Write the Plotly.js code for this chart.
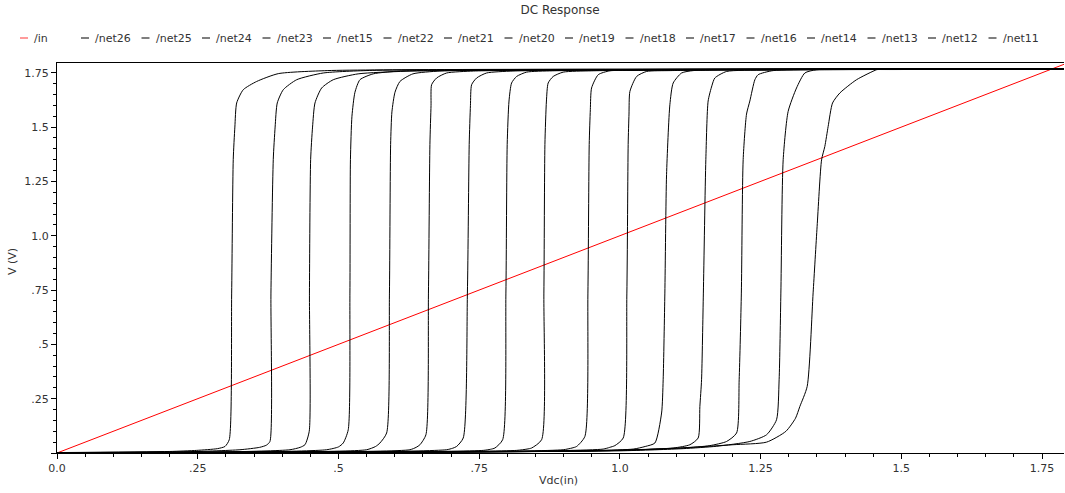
<!DOCTYPE html>
<html><head><meta charset="utf-8">
<script src="https://cdn.plot.ly/plotly-3.0.1.min.js"></script>
<style>html,body{margin:0;padding:0;background:#fff}#chart{width:1065px;height:493px}</style>
</head><body><div id="chart"></div>
<script>
// ---- data ----
const inX = [0, 1.8];
const inY = [0, 1.8];

const net26X = [0, 0.20, 0.2481, 0.285, 0.2984, 0.3060, 0.3103, 0.3131, 0.3160, 0.3192, 0.3309, 0.3547, 0.3931, 0.48, 0.70, 1.79];
const net26Y = [0.002, 0.007, 0.012, 0.020, 0.030, 0.061, 0.736, 1.35, 1.50, 1.611, 1.672, 1.71, 1.746, 1.76, 1.765, 1.768];

const net25X = [0, 0.22, 0.3250, 0.360, 0.3720, 0.3783, 0.3801, 0.3842, 0.3875, 0.3913, 0.4020, 0.4258, 0.4730, 0.56, 0.80, 1.79];
const net25Y = [0.002, 0.005, 0.015, 0.026, 0.036, 0.053, 0.736, 1.35, 1.50, 1.611, 1.672, 1.718, 1.749, 1.761, 1.765, 1.768];

const net24X = [0, 0.30, 0.4139, 0.432, 0.4405, 0.4481, 0.4485, 0.4506, 0.4540, 0.4583, 0.4702, 0.4908, 0.535, 0.62, 0.90, 1.79];
const net24Y = [0.002, 0.005, 0.015, 0.026, 0.038, 0.100, 0.736, 1.35, 1.50, 1.611, 1.68, 1.718, 1.745, 1.757, 1.764, 1.768];

const net23X = [0, 0.36, 0.4790, 0.500, 0.5085, 0.5174, 0.5204, 0.5213, 0.5240, 0.5293, 0.5382, 0.5618, 0.6092, 0.70, 1.0, 1.79];
const net23Y = [0.002, 0.005, 0.015, 0.028, 0.046, 0.107, 0.736, 1.35, 1.55, 1.66, 1.718, 1.745, 1.758, 1.762, 1.765, 1.768];

const net15X = [0, 0.42, 0.5501, 0.566, 0.5737, 0.5856, 0.5906, 0.5927, 0.5950, 0.6004, 0.6092, 0.6323, 0.6803, 0.78, 1.05, 1.79];
const net15Y = [0.002, 0.005, 0.015, 0.030, 0.046, 0.092, 0.736, 1.42, 1.57, 1.66, 1.71, 1.745, 1.758, 1.762, 1.765, 1.768];

const net22X = [0, 0.48, 0.6270, 0.638, 0.6448, 0.6554, 0.6599, 0.6625, 0.6645, 0.6655, 0.6744, 0.6922, 0.74, 0.85, 1.1, 1.79];
const net22Y = [0.002, 0.005, 0.015, 0.026, 0.038, 0.084, 0.736, 1.42, 1.60, 1.695, 1.726, 1.749, 1.758, 1.762, 1.765, 1.768];

const net21X = [0, 0.55, 0.6922, 0.703, 0.7099, 0.7217, 0.7291, 0.7323, 0.7345, 0.7366, 0.7455, 0.7632, 0.81, 0.92, 1.15, 1.79];
const net21Y = [0.002, 0.005, 0.015, 0.022, 0.030, 0.069, 0.736, 1.42, 1.60, 1.695, 1.726, 1.749, 1.758, 1.762, 1.765, 1.768];

const net20X = [0, 0.60, 0.7572, 0.770, 0.7780, 0.7917, 0.7975, 0.7998, 0.8030, 0.8076, 0.8165, 0.8343, 0.88, 0.98, 1.2, 1.79];
const net20Y = [0.002, 0.005, 0.012, 0.017, 0.023, 0.061, 0.736, 1.42, 1.62, 1.703, 1.733, 1.753, 1.759, 1.762, 1.765, 1.768];

const net19X = [0, 0.65, 0.8165, 0.835, 0.8432, 0.8609, 0.8650, 0.8668, 0.8695, 0.8726, 0.8815, 0.8993, 0.95, 1.05, 1.25, 1.79];
const net19Y = [0.002, 0.005, 0.012, 0.018, 0.023, 0.061, 0.736, 1.42, 1.62, 1.703, 1.733, 1.753, 1.759, 1.762, 1.765, 1.768];

const net18X = [0, 0.72, 0.8993, 0.915, 0.9231, 0.9378, 0.9432, 0.9455, 0.9475, 0.9497, 0.9615, 0.9822, 1.03, 1.12, 1.3, 1.79];
const net18Y = [0.002, 0.005, 0.015, 0.023, 0.030, 0.076, 0.736, 1.42, 1.58, 1.68, 1.741, 1.759, 1.761, 1.763, 1.765, 1.768];

const net17X = [0, 0.78, 0.9703, 0.982, 0.9911, 1.0059, 1.0124, 1.0147, 1.0162, 1.0178, 1.0297, 1.0474, 1.09, 1.18, 1.35, 1.79];
const net17Y = [0.002, 0.006, 0.018, 0.026, 0.034, 0.069, 0.736, 1.42, 1.56, 1.664, 1.733, 1.756, 1.760, 1.763, 1.765, 1.768];

const net16X = [0, 0.85, 1.0236, 1.045, 1.0622, 1.0741, 1.0769, 1.0799, 1.0829, 1.0888, 1.0947, 1.1096, 1.1302, 1.20, 1.40, 1.79];
const net16Y = [0.002, 0.007, 0.018, 0.030, 0.046, 0.184, 0.337, 0.736, 1.281, 1.603, 1.703, 1.749, 1.760, 1.763, 1.765, 1.768];

const net14X = [0, 0.90, 1.0947, 1.1243, 1.1391, 1.1421, 1.1451, 1.1483, 1.1527, 1.1568, 1.1634, 1.1687, 1.1895, 1.26, 1.45, 1.79];
const net14Y = [0.002, 0.008, 0.023, 0.038, 0.069, 0.214, 0.337, 0.736, 1.35, 1.62, 1.69, 1.726, 1.756, 1.762, 1.765, 1.768];

const net13X = [0, 0.95, 1.1124, 1.1599, 1.1895, 1.2073, 1.2119, 1.2158, 1.2190, 1.2250, 1.2309, 1.2398, 1.2456, 1.2723, 1.50, 1.79];
const net13Y = [0.002, 0.009, 0.023, 0.034, 0.053, 0.092, 0.337, 0.736, 1.35, 1.56, 1.62, 1.718, 1.741, 1.760, 1.765, 1.768];

const net12X = [0, 1.00, 1.1124, 1.1718, 1.2309, 1.2606, 1.2783, 1.2829, 1.2860, 1.2901, 1.2989, 1.3138, 1.3286, 1.3494, 1.55, 1.79];
const net12Y = [0.002, 0.010, 0.020, 0.031, 0.053, 0.084, 0.153, 0.337, 0.736, 1.35, 1.572, 1.68, 1.749, 1.764, 1.766, 1.768];

const net11X = [0, 1.00, 1.1119, 1.2007, 1.2606, 1.2950, 1.3120, 1.3197, 1.3327, 1.3433, 1.3504, 1.3583, 1.3641, 1.3700, 1.3778, 1.3908, 1.4204, 1.4560, 1.4618, 1.79];
const net11Y = [0.002, 0.012, 0.024, 0.038, 0.050, 0.100, 0.160, 0.214, 0.306, 0.737, 1.043, 1.349, 1.411, 1.503, 1.611, 1.657, 1.718, 1.764, 1.766, 1.768];

const netNames = ["/net26", "/net25", "/net24", "/net23", "/net15", "/net22", "/net21", "/net20",
                  "/net19", "/net18", "/net17", "/net16", "/net14", "/net13", "/net12", "/net11"];
const netXs = [net26X, net25X, net24X, net23X, net15X, net22X, net21X, net20X,
               net19X, net18X, net17X, net16X, net14X, net13X, net12X, net11X];
const netYs = [net26Y, net25Y, net24Y, net23Y, net15Y, net22Y, net21Y, net20Y,
               net19Y, net18Y, net17Y, net16Y, net14Y, net13Y, net12Y, net11Y];

const xTickVals = [0, 0.25, 0.5, 0.75, 1.0, 1.25, 1.5, 1.75];
const xTickText = ["0.0", ".25", ".5", ".75", "1.0", "1.25", "1.5", "1.75"];
const yTickVals = [0, 0.25, 0.5, 0.75, 1.0, 1.25, 1.5, 1.75];
const yTickText = ["", ".25", ".5", ".75", "1.0", "1.25", "1.5", "1.75"];

// ---- layout helpers ----
const W = 1065, H = 493;
const mL = 57, mR = 1, mT = 63, mB = 40;
const pw = W - mL - mR, ph = H - mT - mB;
const px2x = p => (p - mL) / pw;
const py2y = p => (H - mB - p) / ph;
const FONT = "DejaVu Sans";
const TXT = "#333";

function aliasMap(vals, texts) {
  const m = {};
  vals.forEach((v, i) => {
    m[String(v)] = texts[i] === "" ? " " : texts[i];
    m[v.toFixed(1)] = texts[i] === "" ? " " : texts[i];
    m[v.toFixed(2)] = texts[i] === "" ? " " : texts[i];
  });
  return m;
}

const traces = [{
  x: inX, y: inY, name: "/in", mode: "lines",
  line: {color: "#ff0000", width: 1}, hoverinfo: "skip"
}];
netNames.forEach((n, i) => traces.push({
  x: netXs[i], y: netYs[i], name: n, mode: "lines",
  line: {color: "#000000", width: 1, shape: "spline", smoothing: 0.6}, hoverinfo: "skip"
}));

// custom one-row legend
const shapes = [], annotations = [];
const legY = 38;
const legendEntries = [{name: "/in", color: "#ff7a7a", x: 20}];
netNames.forEach((n, i) => legendEntries.push({name: n, color: "#555", x: 81 + i * 60.5}));
legendEntries.forEach(e => {
  shapes.push({type: "line", xref: "paper", yref: "paper",
    x0: px2x(e.x), x1: px2x(e.x + 8), y0: py2y(legY), y1: py2y(legY),
    line: {color: e.color, width: 1.5}});
  annotations.push({xref: "paper", yref: "paper", x: px2x(e.x + 12), y: py2y(legY),
    xanchor: "left", yanchor: "middle", showarrow: false, text: e.name,
    font: {family: FONT, size: 11, color: TXT}});
});
annotations.push({xref: "paper", yref: "paper", x: px2x(558), y: py2y(480),
  xanchor: "center", yanchor: "middle", showarrow: false, text: "Vdc(in)",
  font: {family: FONT, size: 11, color: TXT}});
annotations.push({xref: "paper", yref: "paper", x: px2x(12), y: py2y(262),
  xanchor: "center", yanchor: "middle", showarrow: false, text: "V (V)", textangle: -90,
  font: {family: FONT, size: 11, color: TXT}});

const axisCommon = {
  tickmode: "linear", tick0: 0, dtick: 0.25,
  ticks: "outside", ticklen: 5, tickcolor: "#000", tickwidth: 1,
  showline: true, linecolor: "#000", linewidth: 1,
  showgrid: false, zeroline: false, fixedrange: true,
  minor: {tickmode: "linear", tick0: 0, dtick: 0.05, ticks: "outside", ticklen: 3,
          tickcolor: "#000", tickwidth: 1, showgrid: false},
  tickfont: {family: FONT, size: 11, color: TXT}
};

const layout = {
  width: W, height: H,
  margin: {l: mL, r: mR, t: mT, b: mB, pad: 0},
  paper_bgcolor: "#fff", plot_bgcolor: "#fff",
  showlegend: false,
  title: {text: "DC Response", x: 560 / W, xanchor: "center",
          y: 1 - 10 / H, yanchor: "middle", font: {family: FONT, size: 12, color: TXT}},
  xaxis: Object.assign({}, axisCommon, {range: [0, 1.789], mirror: true,
    labelalias: aliasMap(xTickVals, xTickText)}),
  yaxis: Object.assign({}, axisCommon, {range: [0, 1.795], mirror: false,
    labelalias: aliasMap(yTickVals, yTickText)}),
  shapes: shapes,
  annotations: annotations
};

Plotly.newPlot("chart", traces, layout, {displayModeBar: false, staticPlot: true});
</script>
</body></html>
